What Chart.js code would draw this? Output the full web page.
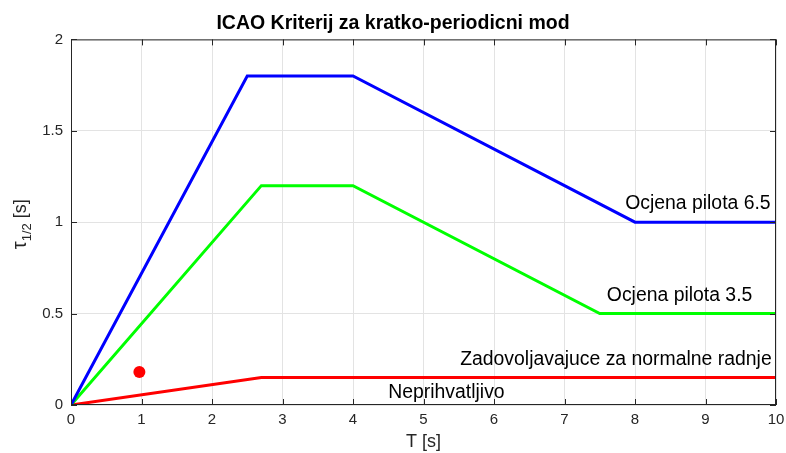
<!DOCTYPE html>
<html>
<head>
<meta charset="utf-8">
<script src="https://cdn.jsdelivr.net/npm/chart.js@4/dist/chart.umd.min.js"></script>
<style>
  html, body { margin: 0; padding: 0; background: #fff; }
  #wrap { width: 786px; height: 453px; }
</style>
</head>
<body>
<div id="wrap"><canvas id="c" width="786" height="453"></canvas></div>
<script>
// Boundary curves of the ICAO short-period criterion
const tBlue   = [0, 2.5, 4, 8, 10];
const tauBlue = [0, 1.8, 1.8, 1.0, 1.0];
const tGreen   = [0, 2.7, 4, 7.5, 10];
const tauGreen = [0, 1.2, 1.2, 0.5, 0.5];
const tRed   = [0, 2.7, 10];
const tauRed = [0, 0.15, 0.15];
// Measured operating point
const tPoint   = [0.97];
const tauPoint = [0.18];
// Region labels
const labelText = ['Ocjena pilota 6.5', 'Ocjena pilota 3.5', 'Zadovoljavajuce za normalne radnje', 'Neprihvatljivo'];
const labelT    = [7.86, 7.6, 5.52, 4.5];
const labelTau  = [1.1, 0.6, 0.25, 0.07];
// Axis ticks
const xTicks = [0, 1, 2, 3, 4, 5, 6, 7, 8, 9, 10];
const yTicks = [0, 0.5, 1, 1.5, 2];

const pts = (xs, ys) => xs.map((x, i) => ({ x: x, y: ys[i] }));
const FONT = '"Liberation Sans", Arial, Helvetica, sans-serif';
const AXIS = '#262626';

const decor = {
  id: 'decor',
  beforeDraw(chart) {
    const c = chart.ctx;
    c.save();
    c.fillStyle = '#fff';
    c.fillRect(0, 0, chart.width, chart.height);
    c.restore();
  },
  afterDatasetsDraw(chart) {
    const c = chart.ctx, a = chart.chartArea;
    const xs = chart.scales.x, ys = chart.scales.y;
    c.save();
    // axes box
    c.strokeStyle = AXIS;
    c.lineWidth = 1;
    c.strokeRect(a.left + 0.5, a.top + 0.5, a.right - a.left - 1, a.bottom - a.top - 1);
    // inward tick marks
    c.beginPath();
    xTicks.forEach(v => {
      const px = Math.round(xs.getPixelForValue(v)) + 0.5;
      c.moveTo(px, a.bottom); c.lineTo(px, a.bottom - 6);
      c.moveTo(px, a.top); c.lineTo(px, a.top + 6);
    });
    yTicks.forEach(v => {
      const py = Math.round(ys.getPixelForValue(v)) + 0.5;
      c.moveTo(a.left, py); c.lineTo(a.left + 6, py);
      c.moveTo(a.right, py); c.lineTo(a.right - 6, py);
    });
    c.stroke();
    // region labels
    c.fillStyle = '#000';
    c.font = '19.4px ' + FONT;
    c.textAlign = 'left';
    c.textBaseline = 'middle';
    labelText.forEach((s, i) => {
      c.fillText(s, xs.getPixelForValue(labelT[i]), ys.getPixelForValue(labelTau[i]));
    });
    // y-axis title with subscript
    c.translate(26, (a.top + a.bottom) / 2 + 2);
    c.rotate(-Math.PI / 2);
    c.fillStyle = AXIS;
    c.textBaseline = 'alphabetic';
    const f1 = '18px ' + FONT, f2 = '13px ' + FONT, f0 = '20px ' + FONT;
    c.font = f0; const w1 = c.measureText('\u03C4').width;
    c.font = f2; const w2 = c.measureText('1/2').width;
    c.font = f1; const w3 = c.measureText(' [s]').width;
    let x0 = -(w1 + w2 + w3) / 2;
    c.font = f0; c.fillText('\u03C4', x0, 0); x0 += w1;
    c.font = f2; c.fillText('1/2', x0, 5); x0 += w2;
    c.font = f1; c.fillText(' [s]', x0, 0);
    c.restore();
  }
};

new Chart(document.getElementById('c'), {
  type: 'scatter',
  data: {
    datasets: [
      { data: pts(tBlue, tauBlue), showLine: true, borderColor: '#0000ff', borderWidth: 3, pointRadius: 0, fill: false },
      { data: pts(tGreen, tauGreen), showLine: true, borderColor: '#00ff00', borderWidth: 3, pointRadius: 0, fill: false },
      { data: pts(tRed, tauRed), showLine: true, borderColor: '#ff0000', borderWidth: 3, pointRadius: 0, fill: false },
      { data: pts(tPoint, tauPoint), showLine: false, pointRadius: 6, pointBackgroundColor: '#ff0000', pointBorderColor: '#ff0000', pointBorderWidth: 0 }
    ]
  },
  options: {
    responsive: false,
    animation: false,
    layout: { padding: { left: 0, right: 0, top: 0, bottom: 0 } },
    plugins: {
      legend: { display: false },
      tooltip: { enabled: false },
      title: {
        display: true,
        text: 'ICAO Kriterij za kratko-periodicni mod',
        color: '#000',
        font: { family: FONT, size: 19.5, weight: 'bold' },
        padding: { top: 12, bottom: 4 }
      }
    },
    scales: {
      x: {
        type: 'linear', min: 0, max: 10,
        afterBuildTicks: s => { s.ticks = xTicks.map(v => ({ value: v })); },
        afterFit: s => { s.height = 48; s.paddingRight = 10; s.paddingLeft = 0; },
        ticks: { color: AXIS, font: { family: FONT, size: 15 }, padding: 6, maxRotation: 0 },
        grid: { color: '#e3e3e3', drawTicks: false },
        border: { display: false },
        title: { display: true, text: 'T [s]', color: AXIS, font: { family: FONT, size: 18 }, padding: { top: 0, bottom: 0 } }
      },
      y: {
        type: 'linear', min: 0, max: 2,
        afterBuildTicks: s => { s.ticks = yTicks.map(v => ({ value: v })); },
        afterFit: s => { s.width = 71; },
        ticks: { color: AXIS, font: { family: FONT, size: 15 }, padding: 8, callback: v => String(v) },
        grid: { color: '#e3e3e3', drawTicks: false },
        border: { display: false }
      }
    }
  },
  plugins: [decor]
});
</script>
</body>
</html>
